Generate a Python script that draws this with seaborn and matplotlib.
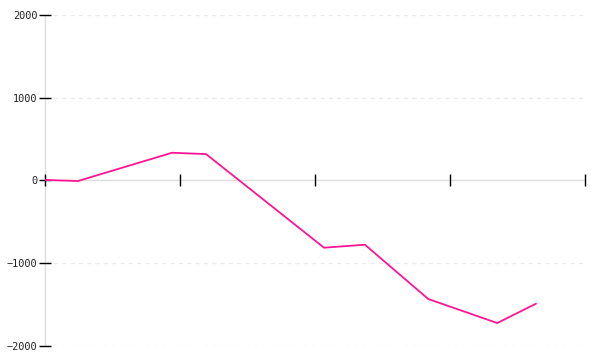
import matplotlib
matplotlib.use("Agg")
import matplotlib.pyplot as plt
import seaborn as sns
import pandas as pd

# data
x_values = [0.0, 0.244, 0.941, 1.193, 2.067, 2.370, 2.839, 3.350, 3.637]
y_values = [5, -8, 334, 318, -815, -779, -1436, -1727, -1493]
x_ticks = [0, 1, 2, 3, 4]
y_ticks = [-2000, -1000, 0, 1000, 2000]

df = pd.DataFrame({"x": x_values, "y": y_values})

sns.set_style("white")
plt.rcParams['font.family'] = ['DejaVu Sans Mono', 'DejaVu Sans']

fig = plt.figure(figsize=(6, 3.6), dpi=100)
ax = fig.add_axes([0.075, 0.04, 0.9, 0.918])

for yv in y_ticks:
    if yv != 0:
        ax.axhline(yv, color="#ebebeb", lw=1, ls=(0, (3, 3)), zorder=0)

sns.lineplot(data=df, x="x", y="y", ax=ax, color="#ff1493", lw=1.3, zorder=3)

ax.set_xlim(0, 4)
ax.set_ylim(-2000, 2000)
ax.set_xticks(x_ticks)
ax.set_xticklabels([])
ax.set_yticks(y_ticks)
ax.set_xlabel("")
ax.set_ylabel("")

for s in ["top", "right"]:
    ax.spines[s].set_visible(False)
ax.spines["left"].set_color("#dddddd")
ax.spines["bottom"].set_color("#dddddd")
ax.spines["bottom"].set_position(("data", 0))
ax.spines["left"].set_linewidth(1)
ax.spines["bottom"].set_linewidth(1)
ax.spines["left"].set_zorder(0.5)
ax.spines["bottom"].set_zorder(0.5)

ax.tick_params(axis="x", direction="inout", length=9, width=1, color="black", bottom=True)
ax.tick_params(axis="y", direction="inout", length=9, width=1, color="black", left=True,
               labelsize=7.4, labelcolor="#222222", pad=1)

fig.savefig("out.png", dpi=100)
